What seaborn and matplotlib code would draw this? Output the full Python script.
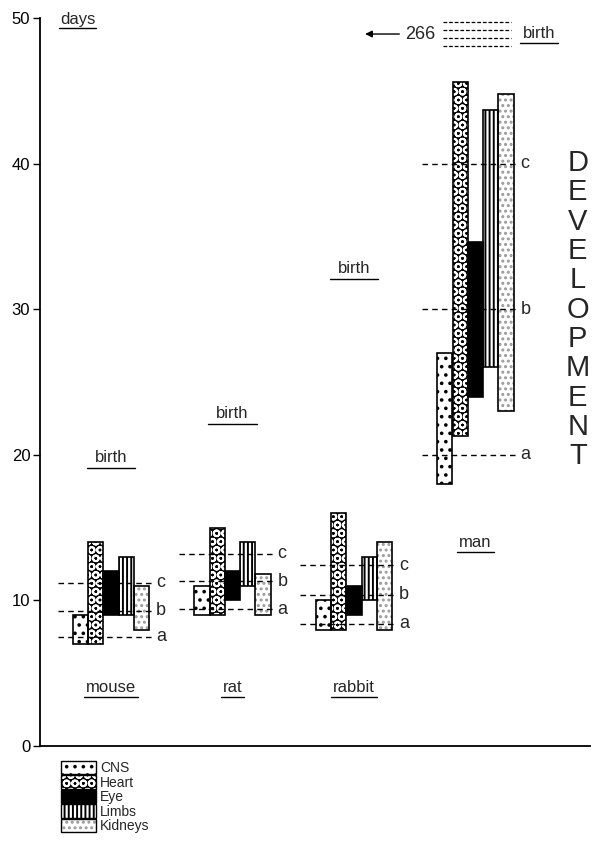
import numpy as np
import matplotlib.pyplot as plt
from matplotlib.patches import Patch
from matplotlib.legend_handler import HandlerTuple
import seaborn as sns

sns.set_theme(style="white")
plt.rcParams['font.family'] = ['Liberation Sans', 'DejaVu Sans']
plt.rcParams['hatch.linewidth'] = 1.4

# data (days after conception)
species = ["mouse", "rat", "rabbit", "man"]
organs = ["CNS", "Heart", "Eye", "Limbs", "Kidneys"]
start_mouse = [7, 7, 9, 9, 8]
end_mouse = [9, 14, 12, 13, 11]
start_rat = [9, 9, 10, 11, 9]
end_rat = [11, 15, 12, 14, 11.8]
start_rabbit = [8, 8, 9, 10, 8]
end_rabbit = [10, 16, 11, 13, 14]
start_man = [18, 21.3, 24, 26, 23]
end_man = [27, 45.6, 34.6, 43.7, 44.8]
starts = [start_mouse, start_rat, start_rabbit, start_man]
ends = [end_mouse, end_rat, end_rabbit, end_man]
stage_a = [7.5, 9.4, 8.4, 20]
stage_b = [9.3, 11.3, 10.4, 30]
stage_c = [11.2, 13.2, 12.4, 40]
birth_day = [19, 22, 32]
man_birth = 266

styles = {
    "CNS": dict(face="white", hc="black", hatch=".."),
    "Heart": dict(face="black", hc="white", hatch="OO"),
    "Eye": dict(face="black", hc="black", hatch=""),
    "Limbs": dict(face="white", hc="black", hatch="||||"),
    "Kidneys": dict(face="white", hc="#9a9a9a", hatch="..."),
}

fig = plt.figure(figsize=(5.94, 8.44), dpi=100)
ax = fig.add_axes([40/594, 98/844, 550/594, 728/844])
ax.set_xlim(0, 36)
ax.set_ylim(0, 50)

group_x = [2.15 + 7.95 * g for g in range(len(species))]

for g, sp in enumerate(species):
    x0 = group_x[g]
    for j, org in enumerate(organs):
        s, e = starts[g][j], ends[g][j]
        st = styles[org]
        ax.bar(x0 + j, e - s, bottom=s, width=1, align='edge', color=st['face'],
               edgecolor=st['hc'], hatch=st['hatch'], linewidth=0, zorder=2)
        ax.bar(x0 + j, e - s, bottom=s, width=1, align='edge', fill=False,
               edgecolor='black', linewidth=1.2, zorder=2.5)
    # stage lines a, b, c
    for val, lab in zip([stage_a[g], stage_b[g], stage_c[g]], "abc"):
        ax.plot([x0 - 1.0, x0 + 5.3], [val, val], color='black', lw=1,
                ls=(0, (4, 3)), zorder=3)
        ax.text(x0 + 5.45, val, lab, fontsize=13, va='center', ha='left')

fig.canvas.draw()
renderer = fig.canvas.get_renderer()
inv = ax.transData.inverted()


def underline(txt, pad=2, ext=2):
    bb = txt.get_window_extent(renderer)
    (x1, y1), (x2, _) = inv.transform([(bb.x0 - ext, bb.y0 - pad),
                                       (bb.x1 + ext, bb.y0 - pad)])
    ax.plot([x1, x2], [y1, y1], color='black', lw=1, clip_on=False)


# species names
for g, sp in enumerate(species):
    yl = 14 if sp == "man" else 4
    t = ax.text(group_x[g] + 2.5, yl, sp, fontsize=12, ha='center', va='center')
    underline(t)

# birth markers
for g, bd in enumerate(birth_day):
    t = ax.text(group_x[g] + 2.5, bd + 0.3, "birth", fontsize=12, ha='center', va='bottom')
    underline(t, pad=3, ext=8)

# man: birth off scale
xm = group_x[3]
for k, yy in enumerate([49.7, 49.15, 48.6, 48.05]):
    ax.plot([xm + 0.4, xm + 4.8], [yy, yy], color='black', lw=0.9,
            ls=(0, (3, 1.5)), clip_on=False)
t = ax.text(xm + 5.6, 48.4, "birth", fontsize=12, ha='left', va='bottom')
underline(t, pad=2, ext=3)
ax.text(xm - 0.1, 48.9, str(man_birth), fontsize=13, ha='right', va='center')
ax.annotate('', xy=(xm - 4.9, 48.9), xytext=(xm - 2.3, 48.9),
            arrowprops=dict(arrowstyle='-|>', color='black', lw=1, mutation_scale=10))

t = ax.text(1.3, 49.4, "days", fontsize=12, ha='left', va='bottom')
underline(t, pad=1, ext=1)

ax.text(35.2, 41.0, "\n".join("DEVELOPMENT"), fontsize=21, ha='center', va='top',
        linespacing=1.06, clip_on=False)

# axes styling
ax.set_yticks([0, 10, 20, 30, 40, 50])
ax.set_xticks([])
ax.tick_params(axis='y', left=True, direction='out', length=5, width=1,
               labelsize=12, pad=2, colors='black')
sns.despine(ax=ax, top=True, right=True)
for sp in ['left', 'bottom']:
    ax.spines[sp].set_color('black')
    ax.spines[sp].set_linewidth(1.3)

# legend
handles = []
for org in organs:
    st = styles[org]
    p1 = Patch(facecolor=st['face'], edgecolor=st['hc'], hatch=st['hatch'], linewidth=0)
    p2 = Patch(facecolor='none', edgecolor='black', linewidth=1)
    handles.append((p1, p2))
fig.legend(handles, organs, loc='upper left', bbox_to_anchor=(61/594, 1 - 761/844),
           frameon=False, fontsize=10, handlelength=2.5, handleheight=1.1,
           labelspacing=0.0, handletextpad=0.3, borderpad=0, borderaxespad=0,
           handler_map={tuple: HandlerTuple(ndivide=1, pad=0)})

fig.savefig("out.png", dpi=100)
